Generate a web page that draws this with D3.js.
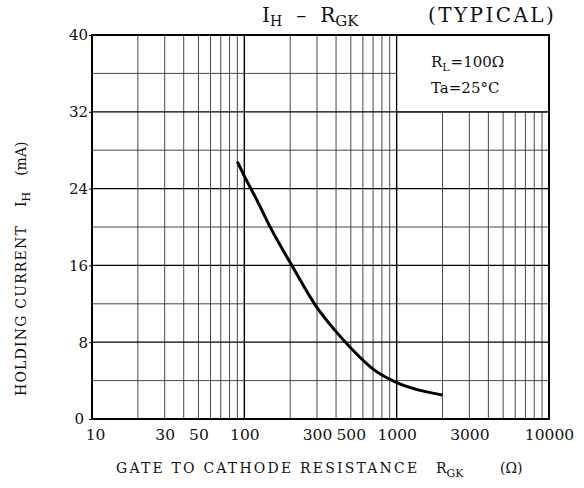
<!DOCTYPE html>
<html>

<head>
    <meta charset="UTF-8">
</head>

<body style="margin:0;background:#fff">
    <style>
        text {
            font-family: "DejaVu Serif", "Liberation Serif", serif;
            fill: #111;
        }
    </style>

    <div id="chart"></div>

    <script src="https://d3js.org/d3.v7.min.js"></script>
    <script>

        // Curve: holding current vs gate-cathode resistance
        const rgk = [90, 100, 120, 150, 200, 300, 400, 500, 700, 1000, 1500, 2000];
        const ih = [26.8, 25.3, 22.9, 19.8, 16.3, 11.6, 9.1, 7.4, 5.2, 3.8, 2.9, 2.5];

        // Tick labels
        const xTicks = [10, 30, 50, 100, 300, 500, 1000, 3000, 10000];
        const yTicks = [0, 8, 16, 24, 32, 40];

        const W = 584, H = 488;
        const margin = { top: 35, right: 35, bottom: 69, left: 92 };

        const svg = d3.select("#chart")
            .append("svg")
            .attr("width", W)
            .attr("height", H);

        const x = d3.scaleLog()
            .domain([10, 10000])
            .range([margin.left, W - margin.right]);

        const y = d3.scaleLinear()
            .domain([0, 40])
            .range([H - margin.bottom, margin.top]);

        // Grid - vertical log lines
        const grid = svg.append("g");
        const vLines = [];
        for (let p = 10; p < 10000; p *= 10) {
            for (let k = 1; k < 10; k++) vLines.push(p * k);
        }
        grid.selectAll(".v")
            .data(vLines)
            .enter()
            .append("line")
            .attr("x1", d => x(d)).attr("x2", d => x(d))
            .attr("y1", y(0)).attr("y2", y(40))
            .style("stroke", d => Math.log10(d) % 1 === 0 ? "#000" : "#333")
            .style("stroke-width", d => Math.log10(d) % 1 === 0 ? 1.4 : 0.9);

        // Grid - horizontal lines every 4 mA
        grid.selectAll(".h")
            .data(d3.range(4, 40, 4))
            .enter()
            .append("line")
            .attr("x1", x(10)).attr("x2", x(10000))
            .attr("y1", d => y(d)).attr("y2", d => y(d))
            .style("stroke", d => d % 8 === 0 ? "#000" : "#333")
            .style("stroke-width", d => d % 8 === 0 ? 1.3 : 0.9);

        // Legend box hides grid in the top right corner
        svg.append("rect")
            .attr("x", x(1000))
            .attr("y", y(40))
            .attr("width", x(10000) - x(1000))
            .attr("height", y(32) - y(40))
            .style("fill", "#fff")
            .style("stroke", "#000")
            .style("stroke-width", 1.2);

        const leg = svg.append("g").style("font-size", "15px");
        const t1 = leg.append("text").attr("x", 431).attr("y", 67);
        t1.append("tspan").text("R");
        t1.append("tspan").attr("dy", 4).style("font-size", "11px").text("L");
        t1.append("tspan").attr("dy", -4).attr("dx", 1).text("=100Ω");
        leg.append("text").attr("x", 431).attr("y", 93).text("Ta=25°C");

        // Frame
        svg.append("rect")
            .attr("x", x(10))
            .attr("y", y(40))
            .attr("width", x(10000) - x(10))
            .attr("height", y(0) - y(40))
            .style("fill", "none")
            .style("stroke", "#000")
            .style("stroke-width", 2);

        // Axes
        svg.append("g")
            .attr("transform", `translate(0, ${y(0)})`)
            .style("font-size", "15.5px")
            .call(d3.axisBottom(x).tickValues(xTicks).tickFormat(d3.format("d")).tickSize(0).tickPadding(10))
            .call(g => g.select(".domain").remove())
            .call(g => g.selectAll("text").style("font-family", "\"DejaVu Serif\", serif").style("fill", "#111"))
            .call(g => g.selectAll(".tick").filter(d => d === 10).select("text").attr("x", 3));

        svg.append("g")
            .attr("transform", `translate(${x(10)}, 0)`)
            .style("font-size", "15px")
            .call(d3.axisLeft(y).tickValues(yTicks).tickSize(3).tickPadding(1))
            .call(g => g.select(".domain").remove())
            .call(g => g.selectAll("line").style("stroke", "#000"))
            .call(g => g.selectAll("text").style("font-family", "\"DejaVu Serif\", serif").style("fill", "#111"))
            .call(g => g.selectAll(".tick").filter(d => d === 0).select("text").attr("dy", "0.3em").attr("x", -8));

        // Curve
        const pts = rgk.map((r, i) => [r, ih[i]]);
        svg.append("path")
            .datum(pts)
            .attr("d", d3.line().x(d => x(d[0])).y(d => y(d[1])).curve(d3.curveMonotoneX))
            .style("fill", "none")
            .style("stroke", "#000")
            .style("stroke-width", 3);

        // Title
        const title = svg.append("text").attr("x", 262).attr("y", 22).style("font-size", "20px");
        title.append("tspan").text("I");
        title.append("tspan").attr("dy", 4).style("font-size", "14px").text("H");
        title.append("tspan").attr("dy", -4).attr("dx", 14).text("–");
        title.append("tspan").attr("dx", 14).text("R");
        title.append("tspan").attr("dy", 4).style("font-size", "15px").text("GK");
        title.append("tspan").attr("dy", -4).attr("x", 428).style("letter-spacing", "2.4px").text("(TYPICAL)");

        // X axis title
        const xt = svg.append("text").attr("x", 116).attr("y", 473).style("font-size", "14px");
        xt.append("tspan").style("letter-spacing", "2.2px").text("GATE TO CATHODE RESISTANCE");
        xt.append("tspan").attr("x", 436).text("R");
        xt.append("tspan").attr("dy", 4).style("font-size", "11px").text("GK");
        xt.append("tspan").attr("dy", -4).attr("x", 500).text("(Ω)");

        // Y axis title
        const yt = svg.append("text")
            .attr("transform", "translate(26, 396) rotate(-90)")
            .style("font-size", "14px");
        yt.append("tspan").style("letter-spacing", "1.2px").text("HOLDING CURRENT");
        yt.append("tspan").attr("dx", 18).text("I");
        yt.append("tspan").attr("dy", 4).style("font-size", "11px").text("H");
        yt.append("tspan").attr("dy", -4).attr("dx", 16).text("(mA)");

    </script>
</body>

</html>
